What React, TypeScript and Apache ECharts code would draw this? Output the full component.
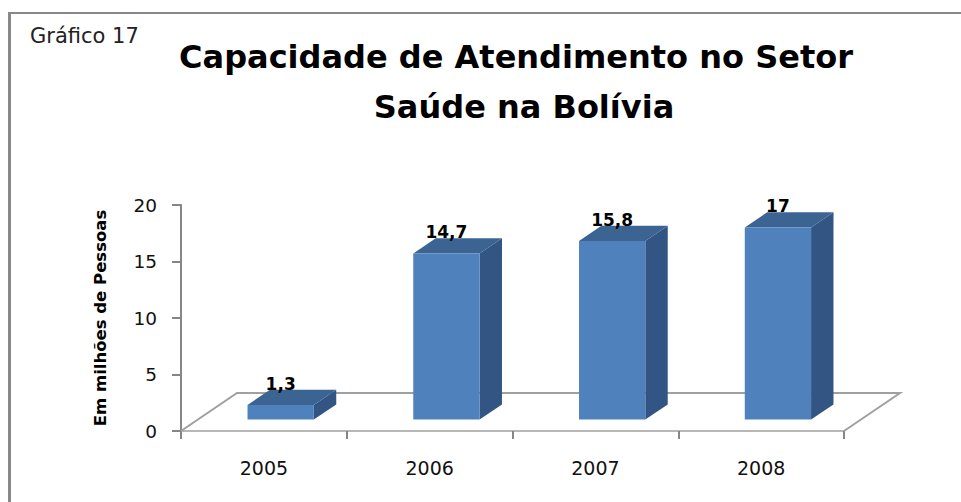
import React, { useEffect, useRef } from "react";
import * as echarts from "echarts";

const categories = ["2005", "2006", "2007", "2008"];
const values = [1.3, 14.7, 15.8, 17];
const yMin = 0;
const yMax = 20;
const yInterval = 5;

const titleLine1 = "Capacidade de Atendimento no Setor";
const titleLine2 = "Saúde na Bolívia";
const captionText = "Gráfico 17";
const yAxisName = "Em milhões de Pessoas";

const FONT = "DejaVu Sans";
const FRONT = "#4F81BD";
const SIDE = "#325583";
const TOP = "#3C6492";
const FLOOR_DX = 56;
const FLOOR_DY = 38;

export default function App() {
  const ref = useRef<HTMLDivElement>(null);
  useEffect(() => {
    if (!ref.current) return;
    const chart = echarts.init(ref.current, undefined, { renderer: "svg" });
    const option: any = {
      animation: false,
      backgroundColor: "#ffffff",
      title: [
        {
          text: titleLine1,
          left: 516,
          top: 32,
          textAlign: "center",
          padding: 0,
          textStyle: { fontFamily: FONT, fontSize: 32, fontWeight: "bold", color: "#000", lineHeight: 50 },
        },
        {
          text: titleLine2,
          left: 524,
          top: 82,
          textAlign: "center",
          padding: 0,
          textStyle: { fontFamily: FONT, fontSize: 32, fontWeight: "bold", color: "#000", lineHeight: 50 },
        },
        {
          text: captionText,
          left: 30,
          top: 25,
          padding: 0,
          textStyle: { fontFamily: FONT, fontSize: 21, fontWeight: "normal", color: "#222" },
        },
      ],
      graphic: [
        { type: "rect", shape: { x: 8, y: 12, width: 3, height: 490 }, style: { fill: "#888888" }, silent: true },
        { type: "rect", shape: { x: 8, y: 12, width: 953, height: 2 }, style: { fill: "#888888" }, silent: true },
      ],
      grid: { left: 181, right: 117, top: 205, bottom: 71, containLabel: false },
      xAxis: {
        type: "category",
        data: categories,
        axisLine: { show: true, lineStyle: { color: "#B8B8B8", width: 2 } },
        axisTick: { show: true, length: 8, interval: 0, lineStyle: { color: "#868686", width: 2 } },
        axisLabel: { margin: 27, fontFamily: FONT, fontSize: 19, color: "#111" },
        splitLine: { show: false },
      },
      yAxis: {
        type: "value",
        min: yMin,
        max: yMax,
        interval: yInterval,
        name: yAxisName,
        nameLocation: "middle",
        nameGap: 72,
        nameTextStyle: { fontFamily: FONT, fontSize: 16.5, fontWeight: "bold", color: "#000" },
        axisLine: { show: true, lineStyle: { color: "#868686", width: 2 } },
        axisTick: { show: true, length: 9, lineStyle: { color: "#868686", width: 2 } },
        axisLabel: { margin: 24, fontFamily: FONT, fontSize: 18.5, color: "#111" },
        splitLine: { show: false },
      },
      series: [
        {
          type: "custom",
          z: 1,
          data: [[0, 0]],
          encode: { x: 0, y: 1 },
          renderItem: (params: any) => {
            const cs = params.coordSys;
            const x0 = cs.x;
            const x1 = cs.x + cs.width;
            const yb = cs.y + cs.height;
            return {
              type: "polyline",
              shape: {
                points: [
                  [x0, yb],
                  [x0 + FLOOR_DX, yb - FLOOR_DY],
                  [x1 + FLOOR_DX, yb - FLOOR_DY],
                  [x1, yb],
                ],
              },
              style: { stroke: "#A0A0A0", lineWidth: 2, fill: "none" },
            };
          },
        },
        {
          type: "custom",
          z: 2,
          data: values.map((v, i) => [i, v]),
          encode: { x: 0, y: 1 },
          renderItem: (params: any, api: any) => {
            const idx = api.value(0);
            const val = api.value(1);
            const c = api.coord([idx, val]);
            const b = api.coord([idx, 0]);
            const band = api.size([1, 0])[0];
            const w = band * 0.4;
            const fdx = FLOOR_DX * 0.3;
            const fdy = FLOOR_DY * 0.3;
            const ddx = FLOOR_DX * 0.4;
            const ddy = FLOOR_DY * 0.4;
            const x0 = c[0] + fdx - w / 2;
            const x1 = x0 + w;
            const yTop = c[1] - fdy;
            const yBot = b[1] - fdy;
            const label = String(val).replace(".", ",");
            return {
              type: "group",
              children: [
                {
                  type: "polygon",
                  shape: { points: [[x1, yBot], [x1, yTop], [x1 + ddx, yTop - ddy], [x1 + ddx, yBot - ddy]] },
                  style: { fill: SIDE },
                },
                {
                  type: "polygon",
                  shape: { points: [[x0, yTop], [x1, yTop], [x1 + ddx, yTop - ddy], [x0 + ddx, yTop - ddy]] },
                  style: { fill: TOP },
                },
                {
                  type: "rect",
                  shape: { x: x0, y: yTop, width: w, height: yBot - yTop },
                  style: { fill: FRONT },
                },
                {
                  type: "text",
                  x: (x0 + x1) / 2,
                  y: yTop - ddy + 2.6,
                  style: {
                    text: label,
                    fill: "#000",
                    fontFamily: FONT,
                    fontSize: 17,
                    fontWeight: "bold",
                    align: "center",
                    verticalAlign: "bottom",
                  },
                },
              ],
            };
          },
        },
      ],
    };
    chart.setOption(option);
    return () => chart.dispose();
  }, []);
  return (
    <div
      ref={ref}
      style={{ position: "absolute", left: 0, top: 0, width: 961, height: 502 }}
    />
  );
}
